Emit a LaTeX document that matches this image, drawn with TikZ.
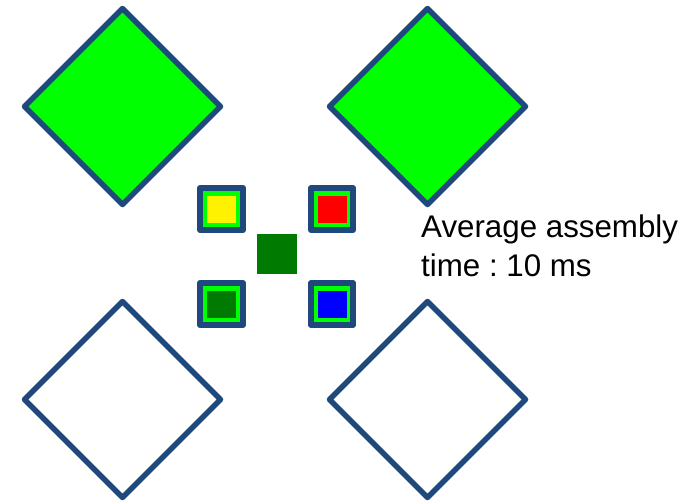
\documentclass[tikz,border=0pt]{standalone}
\usepackage{fontspec}
\setmainfont{Liberation Sans}
\definecolor{frame}{RGB}{31,73,125}
\definecolor{brightgreen}{RGB}{0,255,0}
\definecolor{darkgreen}{RGB}{0,122,0}
\begin{document}
\frenchspacing
\begin{tikzpicture}[x=1pt,y=-1pt,
  diam/.style={draw=frame,line width=5.5pt,line join=round},
  slot/.style={draw=frame,fill=brightgreen,line width=6pt,line join=round},
  lbl/.style={font=\fontsize{31.3}{36}\selectfont,anchor=base west,inner sep=0pt}]
\useasboundingbox (0,0) rectangle (698,501);
% diamonds
\draw[diam,fill=brightgreen] (122.5,8.5) -- (220.5,106.5) -- (122.5,204.5) -- (24.5,106.5) -- cycle;
\draw[diam,fill=brightgreen] (427.5,8.5) -- (525.5,106.5) -- (427.5,204.5) -- (329.5,106.5) -- cycle;
\draw[diam,fill=white] (122.5,301.5) -- (220.5,399.5) -- (122.5,497.5) -- (24.5,399.5) -- cycle;
\draw[diam,fill=white] (427.5,301.5) -- (525.5,399.5) -- (427.5,497.5) -- (329.5,399.5) -- cycle;
% small slots
\draw[slot] (200,188) rectangle (243,230);
\fill[yellow] (207,196) rectangle (236,223);
\draw[slot] (311,188) rectangle (353,230);
\fill[red] (318,196) rectangle (347,223);
\draw[slot] (200,283) rectangle (243,325);
\fill[darkgreen] (207,291) rectangle (236,318);
\draw[slot] (311,283) rectangle (353,325);
\fill[blue] (318,291) rectangle (347,318);
% center piece
\fill[darkgreen] (257,234) rectangle (297,274);
% text
\node[lbl] (t1) at (421,237) {Average assembly};
\node[lbl] (t2) at (421,276) {time : 10 ms};
\end{tikzpicture}
\end{document}
